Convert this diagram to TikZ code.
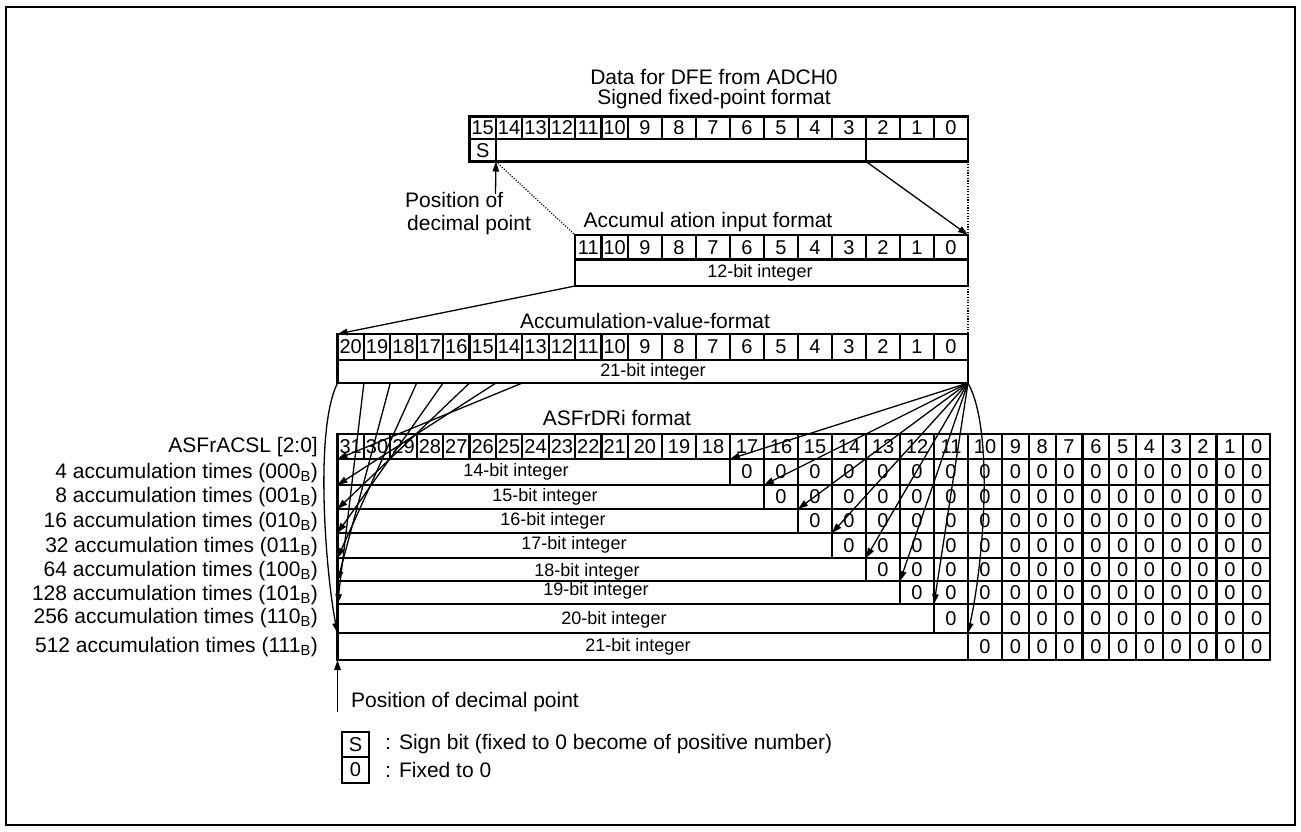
\documentclass[tikz,border=0pt]{standalone}
\usepackage{fontspec}
\setmainfont{Liberation Sans}
\usetikzlibrary{arrows.meta}
\pgfmathdeclarefunction{colL}{1}{\pgfmathparse{(#1<=11)*(337.5+26.4*#1)+and(#1>11,#1<=22)*(628+34*(#1-11))+(#1>22)*(1002+26.8*(#1-22))}}
\begin{document}
\begin{tikzpicture}[x=1pt,y=-1pt,
  cell/.style={draw, line width=2.2pt, inner sep=0pt, outer sep=0pt, font=\fontsize{20}{20}\selectfont},
  arr/.style={line width=1.3pt, -{Triangle[length=10pt,width=6.5pt]}},
  lbl/.style={font=\fontsize{21}{21}\selectfont, inner sep=0pt},
  intlbl/.style={font=\fontsize{18}{18}\selectfont, inner sep=0pt},
  dotl/.style={line width=1.1pt, dash pattern=on 1.2pt off 1.5pt}]
\useasboundingbox (0,0) rectangle (1301,832);
\draw[line width=2.4pt] (6,7) rectangle (1295,825);

% ---------- Top register ----------
\node[lbl] (tt1) at (714,77) {Data for DFE from ADCH0};
\node[lbl] (tt2) at (714,99) {Signed fixed-point format};
\foreach \bb in {0,...,15}{
  \pgfmathsetmacro\xl{colL(20-\bb)}
  \pgfmathsetmacro\xr{colL(21-\bb)}
  \pgfmathsetmacro\ww{\xr-\xl}
  \pgfmathsetmacro\xc{(\xl+\xr)/2}
  \node[cell, minimum width=\ww pt, minimum height=22.5pt] (t\bb) at (\xc,127.75) {\bb};
}
\pgfmathsetmacro\xa{colL(5)}\pgfmathsetmacro\xb{colL(6)}
\pgfmathsetmacro\xcc{colL(18)}\pgfmathsetmacro\xd{colL(21)}
\node[cell, minimum width={(\xb-\xa)*1pt}, minimum height=22.5pt] (s15) at ({(\xa+\xb)/2},150.25) {S};
\node[cell, minimum width={(\xcc-\xb)*1pt}, minimum height=22.5pt] (tmid) at ({(\xb+\xcc)/2},150.25) {};
\node[cell, minimum width={(\xd-\xcc)*1pt}, minimum height=22.5pt] (tlow) at ({(\xcc+\xd)/2},150.25) {};

\coordinate (dp1) at (495.5,194);
\draw[arr] (dp1) -- (s15.south east);
\node[lbl, anchor=west] (pd1) at (405,200) {Position of};
\node[lbl, anchor=west] (pd2) at (407,225) {decimal point};

% ---------- Accumulation input ----------
\node[lbl] (at1) at (708,222) {Accumul ation input format};
\foreach \bb in {0,...,11}{
  \pgfmathsetmacro\xl{colL(20-\bb)}
  \pgfmathsetmacro\xr{colL(21-\bb)}
  \pgfmathsetmacro\ww{\xr-\xl}
  \pgfmathsetmacro\xc{(\xl+\xr)/2}
  \node[cell, minimum width=\ww pt, minimum height=24.5pt] (a\bb) at (\xc,247.25) {\bb};
}
\pgfmathsetmacro\xa{colL(9)}
\node[cell, minimum width={(\xd-\xa)*1pt}, minimum height=26.5pt] (aint) at ({(\xa+\xd)/2},272.75) {};
\node[intlbl] (aintt) at (760,273) {12-bit integer};

\draw[dotl] (s15.south east) -- (a11.north west);
\draw[arr] (tlow.south west) -- (a0.north east);
\draw[dotl] (tlow.south east) -- (a0.north east);

% ---------- Accumulation value ----------
\node[lbl] (vt1) at (645,321) {Accumulation-value-format};
\foreach \bb in {0,...,20}{
  \pgfmathsetmacro\xl{colL(20-\bb)}
  \pgfmathsetmacro\xr{colL(21-\bb)}
  \pgfmathsetmacro\ww{\xr-\xl}
  \pgfmathsetmacro\xc{(\xl+\xr)/2}
  \node[cell, minimum width=\ww pt, minimum height=26pt] (v\bb) at (\xc,347) {\bb};
}
\pgfmathsetmacro\xa{colL(0)}
\node[cell, minimum width={(\xd-\xa)*1pt}, minimum height=23pt] (vint) at ({(\xa+\xd)/2},371.5) {};
\node[intlbl] (vintt) at (653,372) {21-bit integer};

\draw[dotl] (aint.south east) -- (v0.north east);
\draw[arr] (aint.south west) -- (v20.north west);

% ---------- ASFrDRi ----------
\node[lbl] (ht1) at (617,418) {ASFrDRi format};
\node[lbl, anchor=east] (hl) at (318,447) {ASFrACSL [2:0]};
\foreach \bb in {0,...,31}{
  \pgfmathsetmacro\xl{colL(31-\bb)}
  \pgfmathsetmacro\xr{colL(32-\bb)}
  \pgfmathsetmacro\ww{\xr-\xl}
  \pgfmathsetmacro\xc{(\xl+\xr)/2}
  \node[cell, minimum width=\ww pt, minimum height=25pt] (h\bb) at (\xc,446.5) {\bb};
}
\foreach \kk/\yt/\yb in {0/459/485,1/485/509,2/509/533,3/533/558,4/558/581,5/581/604,6/604/633,7/633/660}{
  \pgfmathtruncatemacro\mm{17-\kk}
  \pgfmathsetmacro\xl{colL(0)}
  \pgfmathsetmacro\xr{colL(14+\kk)}
  \node[cell, minimum width={(\xr-\xl)*1pt}, minimum height={(\yb-\yt)*1pt}] (i\kk) at ({(\xl+\xr)/2},{(\yt+\yb)/2}) {};
  \foreach \bb in {0,...,\mm}{
    \pgfmathsetmacro\xl{colL(31-\bb)}
    \pgfmathsetmacro\xr{colL(32-\bb)}
    \node[cell, minimum width={(\xr-\xl)*1pt}, minimum height={(\yb-\yt)*1pt}] (z\kk-\bb) at ({(\xl+\xr)/2},{(\yt+\yb)/2}) {0};
  }
}
\foreach \kk/\nn/\xx/\yy in {0/14/516/472,1/15/545/497,2/16/553/521,3/17/574/545,4/18/587/572,5/19/596/591,6/20/614/620,7/21/638/647}{
  \node[intlbl] (it\kk) at (\xx,\yy) {\nn-bit integer};
}
\foreach \kk/\nn/\cc/\yy in {0/4/000/473,1/8/001/497,2/16/010/522,3/32/011/547,4/64/100/571,5/128/101/595,6/256/110/618,7/512/111/647}{
  \node[lbl, anchor=east] (r\kk) at (318,\yy) {\nn\ accumulation times (\cc\textsubscript{B})};
}

% ---------- fans ----------
\foreach \bb/\kk in {13/0,14/1,15/2,16/3,17/4,18/5,19/6}{
  \draw[arr] (v\bb.west |- vint.south) -- (i\kk.north west);
}
\draw[arr] (vint.south west) .. controls (314,430) and (326,575) .. (i7.north west);
\foreach \kk in {0,...,6}{
  \pgfmathtruncatemacro\mm{17-\kk}
  \draw[arr] (vint.south east) -- (z\kk-\mm.north west);
}
\draw[arr] (vint.south east) .. controls (994,430) and (984,560) .. (z7-10.north west);

% ---------- bottom decimal point ----------
\coordinate (dpb) at (337.5,712);
\draw[arr] (dpb) -- (i7.south west);
\node[lbl, anchor=west] (dpt) at (351,702) {Position of decimal point};

% ---------- legend ----------
\node[cell, minimum width=27pt, minimum height=25pt] (legS) at (355.5,744.5) {S};
\node[cell, minimum width=27pt, minimum height=26pt] (leg0) at (355.5,770) {0};
\node[lbl, anchor=west] (legSt) at (385,744.5) {:\hspace{8pt}Sign bit (fixed to 0 become of positive number)};
\node[lbl, anchor=west] (leg0t) at (385,770) {:\hspace{8pt}Fixed to 0};
\end{tikzpicture}
\end{document}
